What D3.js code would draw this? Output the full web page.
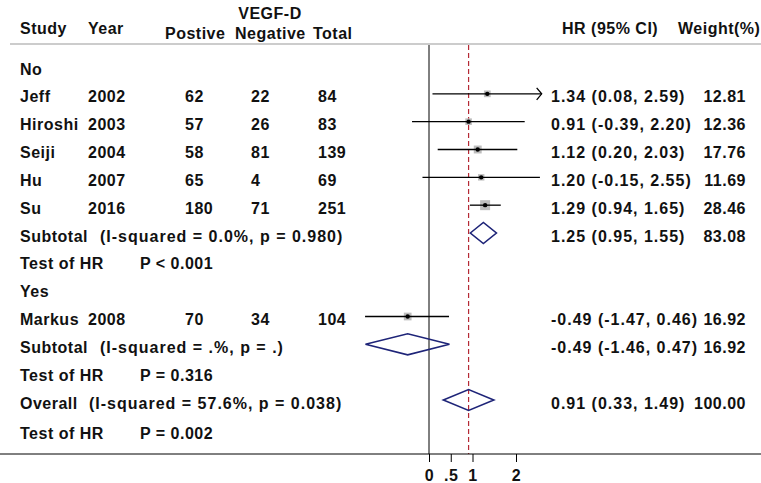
<!DOCTYPE html>
<html>
<head>
<meta charset="utf-8">
<script src="https://cdn.jsdelivr.net/npm/d3@7"></script>
<style>
  body { margin: 0; background: #fff; }
  svg text { font-family: "Liberation Sans", Arial, sans-serif; font-weight: bold; font-size: 16px; fill: #111; letter-spacing: 0.5px; }
  svg text.stat { letter-spacing: 1px; }
</style>
</head>
<body>
<svg id="chart" width="761" height="483"></svg>
<script>
// study level data
const studies   = ["Jeff", "Hiroshi", "Seiji", "Hu", "Su", "Markus"]
const years     = [2002, 2003, 2004, 2007, 2016, 2008]
const groupOf   = ["No", "No", "No", "No", "No", "Yes"]
const positive  = [62, 57, 58, 65, 180, 70]
const negative  = [22, 26, 81, 4, 71, 34]
const totals    = [84, 83, 139, 69, 251, 104]
const hr        = [1.34, 0.91, 1.12, 1.20, 1.29, -0.49]
const lower     = [0.08, -0.39, 0.20, -0.15, 0.94, -1.47]
const upper     = [2.59, 2.20, 2.03, 2.55, 1.65, 0.46]
const weights   = [12.81, 12.36, 17.76, 11.69, 28.46, 16.92]
const clipped   = [true, false, false, false, false, false]

// pooled estimates
const groups        = ["No", "Yes"]
const pooledLabels  = ["Subtotal", "Subtotal", "Overall"]
const pooledHet     = ["(I-squared = 0.0%, p = 0.980)", "(I-squared = .%, p = .)", "(I-squared = 57.6%, p = 0.038)"]
const pooledHr      = [1.25, -0.49, 0.91]
const pooledLower   = [0.95, -1.46, 0.33]
const pooledUpper   = [1.55, 0.47, 1.49]
const pooledWeight  = [83.08, 16.92, 100.00]
const testP         = ["P < 0.001", "P = 0.316", "P = 0.002"]

const tickValues = [0, 0.5, 1, 2]
const tickLabels = ["0", ".5", "1", "2"]

let svg = d3.select("#chart")
let width = 761, height = 483
let axisY = 454, topY = 45

// build the row list
let rows = []
groups.forEach((g, gi) => {
    rows.push({type: "group", label: g})
    studies.forEach((s, i) => {
        if (groupOf[i] === g) rows.push({type: "study", i: i})
    })
    rows.push({type: "pooled", i: gi})
    rows.push({type: "test", i: gi})
})
rows.push({type: "pooled", i: 2})
rows.push({type: "test", i: 2})
rows.forEach((r, k) => r.row = (k === rows.length - 1) ? k + 0.1 : k)

let x = d3.scaleLinear().domain([0, 2]).range([429, 516])
let y = d3.scaleLinear().domain([0, 12]).range([69, 403])
let side = d3.scaleSqrt().domain([0, 28.46]).range([0, 10])

// header
svg.append("line").attr("x1", 10).attr("x2", width).attr("y1", 44).attr("y2", 44)
    .attr("stroke", "#ccc").attr("stroke-width", 2)
let header = [["Study", 20, 28], ["Year", 88, 28], ["Postive", 165, 33], ["Negative", 235, 33],
              ["Total", 313, 33], ["HR (95% CI)", 562, 28], ["Weight(%)", 678, 28]]
svg.selectAll(".hdr").data(header).enter().append("text")
    .attr("class", "hdr").attr("x", d => d[1]).attr("y", d => d[2]).attr("dy", "0.35em").text(d => d[0])
svg.append("text").attr("x", 270).attr("y", 13).attr("dy", "0.35em").attr("text-anchor", "middle").text("VEGF-D")

// reference lines
svg.append("line").attr("x1", x(0)).attr("x2", x(0)).attr("y1", topY).attr("y2", axisY)
    .attr("stroke", "#000").attr("stroke-width", 1)
svg.append("line").attr("x1", x(pooledHr[2])).attr("x2", x(pooledHr[2])).attr("y1", topY).attr("y2", axisY)
    .attr("stroke", "#b52a35").attr("stroke-width", 1.2).attr("stroke-dasharray", "5,3")

// axis
svg.append("line").attr("x1", 0).attr("x2", width).attr("y1", axisY).attr("y2", axisY)
    .attr("stroke", "#000").attr("stroke-width", 1)
let axis = svg.append("g").attr("transform", `translate(0,${axisY})`)
    .call(d3.axisBottom(x).tickValues(tickValues).tickSize(8).tickPadding(8)
        .tickFormat((d, i) => tickLabels[i]))
axis.select(".domain").remove()
axis.selectAll("line").attr("stroke", "#000")
axis.selectAll("text").attr("font-size", null).attr("font-family", null).attr("fill", null)

let txt = (r, xx, s, anchor) => svg.append("text").attr("x", xx).attr("y", y(r.row))
    .attr("dy", "0.35em").attr("text-anchor", anchor || "start").style("white-space", "pre").text(s)

let navy = "#1e2478"
let off = -3

rows.forEach(r => {
    let cy = y(r.row) + off
    if (r.type === "group") {
        txt(r, 20, r.label)
    } else if (r.type === "study") {
        let i = r.i
        txt(r, 20, studies[i]); txt(r, 88, years[i])
        txt(r, 185, positive[i]); txt(r, 251, negative[i]); txt(r, 318, totals[i])
        txt(r, 551, `${hr[i].toFixed(2)} (${lower[i].toFixed(2)}, ${upper[i].toFixed(2)})`).attr("class", "stat")
        txt(r, 746, weights[i].toFixed(2), "end")
        let s = side(weights[i])
        svg.append("rect").attr("x", x(hr[i]) - s / 2).attr("y", cy - s / 2)
            .attr("width", s).attr("height", s).attr("fill", "#bdbdbd")
        svg.append("line").attr("x1", x(lower[i])).attr("x2", x(upper[i])).attr("y1", cy).attr("y2", cy)
            .attr("stroke", "#000").attr("stroke-width", 1.3)
        svg.append("circle").attr("cx", x(hr[i])).attr("cy", cy).attr("r", 2.2).attr("fill", "#000")
        if (clipped[i]) {
            let ex = x(upper[i])
            svg.append("path").attr("d", `M${ex - 5},${cy - 6}L${ex},${cy}L${ex - 5},${cy + 6}`)
                .attr("fill", "none").attr("stroke", "#000").attr("stroke-width", 1.3)
        }
    } else if (r.type === "pooled") {
        let i = r.i
        txt(r, 20, pooledLabels[i])
        txt(r, i === 2 ? 89 : 100, pooledHet[i]).attr("class", "stat")
        txt(r, 551, `${pooledHr[i].toFixed(2)} (${pooledLower[i].toFixed(2)}, ${pooledUpper[i].toFixed(2)})`).attr("class", "stat")
        txt(r, 746, pooledWeight[i].toFixed(2), "end")
        let h = 10.5
        svg.append("path")
            .attr("d", `M${x(pooledLower[i])},${cy}L${x(pooledHr[i])},${cy - h}L${x(pooledUpper[i])},${cy}L${x(pooledHr[i])},${cy + h}Z`)
            .attr("fill", "none").attr("stroke", navy).attr("stroke-width", 1.6)
    } else {
        txt(r, 20, "Test of HR"); txt(r, 140, testP[r.i])
    }
})
</script>
</body>
</html>
